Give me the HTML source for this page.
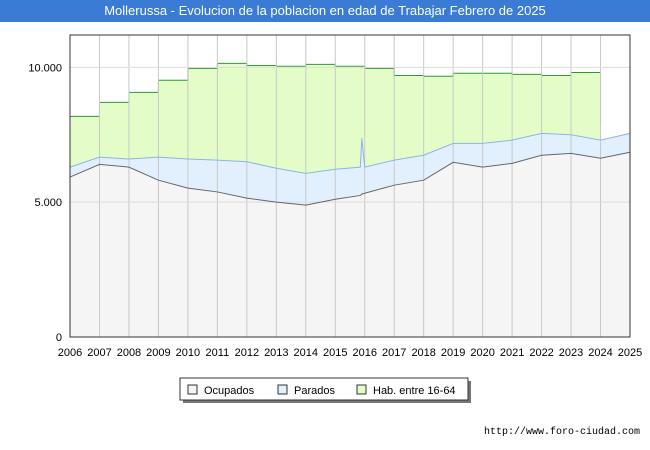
<!DOCTYPE html>
<html><head><meta charset="utf-8"><style>
body{margin:0;width:650px;height:450px;background:#fff;font-family:"Liberation Sans",sans-serif;overflow:hidden}
#title{position:absolute;left:0;top:0;width:650px;height:22px;background:#3a7bd5;color:#fff;font-size:13px;text-align:center;line-height:22px}
#url{position:absolute;right:10px;top:427px;font-size:10px;font-family:"Liberation Mono",monospace}
</style></head><body>
<div id="title">Mollerussa - Evolucion de la poblacion en edad de Trabajar Febrero de 2025</div>
<svg id="c" width="650" height="450" style="position:absolute;left:0;top:0"></svg>
<div id="url">http://www.foro-ciudad.com</div>
<script>
const habYears=[2006,2007,2008,2009,2010,2011,2012,2013,2014,2015,2016,2017,2018,2019,2020,2021,2022,2023];
const habValues=[8180,8700,9070,9520,9960,10150,10070,10040,10110,10040,9960,9700,9670,9780,9780,9740,9700,9810];
const habEnd=7900;
const years=[2006,2007,2008,2009,2010,2011,2012,2013,2014,2015,2015.85,2015.9,2016,2017,2018,2019,2020,2021,2022,2023,2024,2025];
const totalValues=[6300,6670,6600,6670,6600,6560,6500,6260,6070,6220,6300,7370,6300,6560,6740,7180,7180,7300,7550,7500,7300,7550];
const ocupValues=[5930,6400,6300,5815,5520,5380,5150,5000,4890,5110,5250,5300,5330,5630,5815,6480,6300,6440,6740,6810,6630,6850];
const yTicks=[0,5000,10000];const yLabels=["0","5.000","10.000"];
const L=70,R=630,T=35,B=337;
const X=v=>L+(v-2006)/19*(R-L);const Y=v=>B-v/11200*(B-T);
const s=document.getElementById('c');const NS='http://www.w3.org/2000/svg';
function add(t,a,txt){const e=document.createElementNS(NS,t);for(const k in a)e.setAttribute(k,a[k]);if(txt!==undefined)e.textContent=txt;s.appendChild(e);return e;}
let e=add('rect',{x:L,y:T,width:R-L,height:B-T,fill:'#fff'});

// hab area
let hp='M'+X(2006)+','+B;
habYears.forEach((yr,i)=>{hp+=' L'+X(yr)+','+Y(habValues[i])+' L'+X(yr+1)+','+Y(habValues[i]);});
hp+=' L'+X(2024)+','+Y(habEnd)+' L'+X(2024)+','+B+' Z';
e=add('path',{d:hp,fill:'#e4fdc8',stroke:'none'});

let hl='M'+X(2006)+','+Y(habValues[0]);
habYears.forEach((yr,i)=>{hl+=' L'+X(yr)+','+Y(habValues[i])+' L'+X(yr+1)+','+Y(habValues[i]);});
hl+=' L'+X(2024)+','+Y(habEnd);
e=add('path',{d:hl,fill:'none',stroke:'#2e9a2e','stroke-width':1});

function line(vals){return years.map((yr,i)=>(i?'L':'M')+X(yr)+','+Y(vals[i])).join(' ');}
e=add('path',{d:line(totalValues)+' L'+X(2025)+','+B+' L'+X(2006)+','+B+' Z',fill:'#e2f0fd'});

e=add('path',{d:line(ocupValues)+' L'+X(2025)+','+B+' L'+X(2006)+','+B+' Z',fill:'#f5f5f5'});

// grid
for(let yr=2007;yr<=2024;yr++){e=add('line',{x1:X(yr),x2:X(yr),y1:T,y2:B,stroke:'#c8c8c8'});
}
yTicks.forEach((v,i)=>{e=add('line',{x1:L,x2:R,y1:Y(v),y2:Y(v),stroke:'#dddddd'});

e=add('text',{x:L-8,y:Y(v)+4,'text-anchor':'end','font-size':11,fill:'#000'},yLabels[i]);
});
e=add('path',{d:line(totalValues),fill:'none',stroke:'#8cb4e8','stroke-width':1});

e=add('path',{d:line(ocupValues),fill:'none',stroke:'#666','stroke-width':1});

e=add('rect',{x:L,y:T,width:R-L,height:B-T,fill:'none',stroke:'#333'});

for(let yr=2006;yr<=2025;yr++){e=add('text',{x:X(yr),y:356,'text-anchor':'middle','font-size':11},String(yr));
}
// legend
e=add('rect',{x:183,y:381,width:288,height:22,fill:'#777'});

e=add('rect',{x:180,y:378,width:288,height:22,fill:'#fff',stroke:'#333'});

const lg=[["Ocupados","#f5f5f5",188],["Parados","#e2f0fd",278],["Hab. entre 16-64","#e4fdc8",357]];
lg.forEach(l=>{e=add('rect',{x:l[2],y:385,width:9,height:9,fill:l[1],stroke:'#333'});

e=add('text',{x:l[2]+16,y:394,'font-size':11},l[0]);
});
</script>
</body></html>
